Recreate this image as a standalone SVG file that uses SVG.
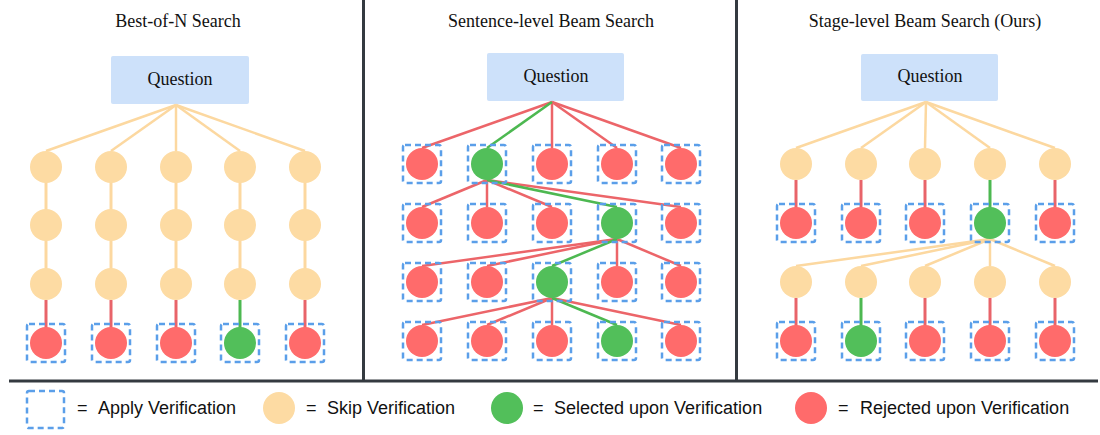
<svg xmlns="http://www.w3.org/2000/svg" width="1100" height="435" viewBox="0 0 1100 435">
<style>
.title{font-family:"Liberation Serif","Times New Roman",serif;font-size:18px;fill:#111;text-anchor:middle}
.q{fill:#CDE1FA}
.qt{font-family:"Liberation Serif","Times New Roman",serif;font-size:18px;fill:#111;text-anchor:middle}
.ly{stroke:#FCD8A0;stroke-width:3;fill:none}
.lr{stroke:#E8646A;stroke-width:3;fill:none}
.lg{stroke:#4DB851;stroke-width:3;fill:none}
.fy{stroke:#FCD8A0;stroke-width:2.5;fill:none}
.fr{stroke:#EC6569;stroke-width:2.5;fill:none}
.fg{stroke:#4DB851;stroke-width:2.5;fill:none}
.cy{fill:#FDDBA3}
.cr{fill:#FF6B6B}
.cg{fill:#52BF5A}
.bx{fill:none;stroke:#5B9FE9;stroke-width:2.5;stroke-dasharray:6 4}
.div{stroke:#343A40;stroke-width:3;fill:none}
.lt{font-family:"Liberation Sans",Arial,sans-serif;font-size:18px;fill:#111}
</style>

<g id="dividers">
<line class="div" x1="363.5" y1="0" x2="363.5" y2="381"/>
<line class="div" x1="736.5" y1="0" x2="736.5" y2="381"/>
<line class="div" x1="9" y1="381" x2="1098" y2="381"/>
</g>

<!-- Panel 1 -->
<g id="p1-title"><text class="title" x="178" y="27">Best-of-N Search</text></g>
<g id="p1-question"><rect class="q" x="111" y="56" width="138" height="48" rx="2"/><text class="qt" x="180" y="85">Question</text></g>
<g id="p1-connectors">
<line class="fy" x1="176" y1="105" x2="46" y2="151"/>
<line class="fy" x1="176" y1="105" x2="111" y2="151"/>
<line class="fy" x1="176" y1="105" x2="176" y2="151"/>
<line class="fy" x1="176" y1="105" x2="240" y2="151"/>
<line class="fy" x1="176" y1="105" x2="305" y2="151"/>
<line class="ly" x1="46" y1="167" x2="46" y2="284"/>
<line class="ly" x1="111" y1="167" x2="111" y2="284"/>
<line class="ly" x1="176" y1="167" x2="176" y2="284"/>
<line class="ly" x1="240" y1="167" x2="240" y2="284"/>
<line class="ly" x1="305" y1="167" x2="305" y2="284"/>
<line class="lr" x1="46" y1="300" x2="46" y2="330"/>
<line class="lr" x1="111" y1="300" x2="111" y2="330"/>
<line class="lr" x1="176" y1="300" x2="176" y2="330"/>
<line class="lg" x1="240" y1="300" x2="240" y2="330"/>
<line class="lr" x1="305" y1="300" x2="305" y2="330"/>
</g>
<g id="p1-nodes">
<circle class="cy" cx="46" cy="167" r="16"/><circle class="cy" cx="111" cy="167" r="16"/><circle class="cy" cx="176" cy="167" r="16"/><circle class="cy" cx="240" cy="167" r="16"/><circle class="cy" cx="305" cy="167" r="16"/>
<circle class="cy" cx="46" cy="225" r="16"/><circle class="cy" cx="111" cy="225" r="16"/><circle class="cy" cx="176" cy="225" r="16"/><circle class="cy" cx="240" cy="225" r="16"/><circle class="cy" cx="305" cy="225" r="16"/>
<circle class="cy" cx="46" cy="284" r="16"/><circle class="cy" cx="111" cy="284" r="16"/><circle class="cy" cx="176" cy="284" r="16"/><circle class="cy" cx="240" cy="284" r="16"/><circle class="cy" cx="305" cy="284" r="16"/>
<circle class="cr" cx="46" cy="343" r="16"/><circle class="cr" cx="111" cy="343" r="16"/><circle class="cr" cx="176" cy="343" r="16"/><circle class="cg" cx="240" cy="343" r="16"/><circle class="cr" cx="305" cy="343" r="16"/>
<rect class="bx" x="27" y="324" width="38" height="38" rx="2"/><rect class="bx" x="92" y="324" width="38" height="38" rx="2"/><rect class="bx" x="157" y="324" width="38" height="38" rx="2"/><rect class="bx" x="221" y="324" width="38" height="38" rx="2"/><rect class="bx" x="286" y="324" width="38" height="38" rx="2"/>
</g>

<!-- Panel 2 -->
<g id="p2-title"><text class="title" x="551" y="27">Sentence-level Beam Search</text></g>
<g id="p2-question"><rect class="q" x="487" y="53" width="137" height="48" rx="2"/><text class="qt" x="556" y="82">Question</text></g>
<g id="p2-connectors">
<line class="fr" x1="552" y1="102" x2="422" y2="148"/>
<line class="fr" x1="552" y1="102" x2="552" y2="148"/>
<line class="fr" x1="552" y1="102" x2="617" y2="148"/>
<line class="fr" x1="552" y1="102" x2="681" y2="148"/>
<line class="fg" x1="552" y1="102" x2="487" y2="148"/>
<line class="fr" x1="487" y1="180" x2="422" y2="207"/>
<line class="fr" x1="487" y1="180" x2="487" y2="207"/>
<line class="fr" x1="487" y1="180" x2="552" y2="207"/>
<line class="fr" x1="487" y1="180" x2="681" y2="207"/>
<line class="fg" x1="487" y1="180" x2="617" y2="207"/>
<line class="fr" x1="617" y1="239" x2="422" y2="266"/>
<line class="fr" x1="617" y1="239" x2="487" y2="266"/>
<line class="fr" x1="617" y1="239" x2="617" y2="266"/>
<line class="fr" x1="617" y1="239" x2="681" y2="266"/>
<line class="fg" x1="617" y1="239" x2="552" y2="266"/>
<line class="fr" x1="552" y1="298" x2="422" y2="325"/>
<line class="fr" x1="552" y1="298" x2="487" y2="325"/>
<line class="fr" x1="552" y1="298" x2="552" y2="325"/>
<line class="fr" x1="552" y1="298" x2="681" y2="325"/>
<line class="fg" x1="552" y1="298" x2="617" y2="325"/>
</g>
<g id="p2-nodes">
<circle class="cr" cx="422" cy="164" r="16"/><circle class="cg" cx="487" cy="164" r="16"/><circle class="cr" cx="552" cy="164" r="16"/><circle class="cr" cx="617" cy="164" r="16"/><circle class="cr" cx="681" cy="164" r="16"/>
<circle class="cr" cx="422" cy="223" r="16"/><circle class="cr" cx="487" cy="223" r="16"/><circle class="cr" cx="552" cy="223" r="16"/><circle class="cg" cx="617" cy="223" r="16"/><circle class="cr" cx="681" cy="223" r="16"/>
<circle class="cr" cx="422" cy="282" r="16"/><circle class="cr" cx="487" cy="282" r="16"/><circle class="cg" cx="552" cy="282" r="16"/><circle class="cr" cx="617" cy="282" r="16"/><circle class="cr" cx="681" cy="282" r="16"/>
<circle class="cr" cx="422" cy="341" r="16"/><circle class="cr" cx="487" cy="341" r="16"/><circle class="cr" cx="552" cy="341" r="16"/><circle class="cg" cx="617" cy="341" r="16"/><circle class="cr" cx="681" cy="341" r="16"/>
<rect class="bx" x="403" y="145" width="38" height="38" rx="2"/><rect class="bx" x="468" y="145" width="38" height="38" rx="2"/><rect class="bx" x="533" y="145" width="38" height="38" rx="2"/><rect class="bx" x="598" y="145" width="38" height="38" rx="2"/><rect class="bx" x="662" y="145" width="38" height="38" rx="2"/>
<rect class="bx" x="403" y="204" width="38" height="38" rx="2"/><rect class="bx" x="468" y="204" width="38" height="38" rx="2"/><rect class="bx" x="533" y="204" width="38" height="38" rx="2"/><rect class="bx" x="598" y="204" width="38" height="38" rx="2"/><rect class="bx" x="662" y="204" width="38" height="38" rx="2"/>
<rect class="bx" x="403" y="263" width="38" height="38" rx="2"/><rect class="bx" x="468" y="263" width="38" height="38" rx="2"/><rect class="bx" x="533" y="263" width="38" height="38" rx="2"/><rect class="bx" x="598" y="263" width="38" height="38" rx="2"/><rect class="bx" x="662" y="263" width="38" height="38" rx="2"/>
<rect class="bx" x="403" y="322" width="38" height="38" rx="2"/><rect class="bx" x="468" y="322" width="38" height="38" rx="2"/><rect class="bx" x="533" y="322" width="38" height="38" rx="2"/><rect class="bx" x="598" y="322" width="38" height="38" rx="2"/><rect class="bx" x="662" y="322" width="38" height="38" rx="2"/>
</g>

<!-- Panel 3 -->
<g id="p3-title"><text class="title" x="925" y="27">Stage-level Beam Search (Ours)</text></g>
<g id="p3-question"><rect class="q" x="861" y="54" width="137" height="47" rx="2"/><text class="qt" x="930" y="82">Question</text></g>
<g id="p3-connectors">
<line class="fy" x1="926" y1="102" x2="796" y2="148"/>
<line class="fy" x1="926" y1="102" x2="861" y2="148"/>
<line class="fy" x1="926" y1="102" x2="925" y2="148"/>
<line class="fy" x1="926" y1="102" x2="990" y2="148"/>
<line class="fy" x1="926" y1="102" x2="1055" y2="148"/>
<line class="lr" x1="796" y1="180" x2="796" y2="210"/>
<line class="lr" x1="861" y1="180" x2="861" y2="210"/>
<line class="lr" x1="925" y1="180" x2="925" y2="210"/>
<line class="lg" x1="990" y1="180" x2="990" y2="210"/>
<line class="lr" x1="1055" y1="180" x2="1055" y2="210"/>
<line class="fy" x1="990" y1="239" x2="796" y2="266"/>
<line class="fy" x1="990" y1="239" x2="861" y2="266"/>
<line class="fy" x1="990" y1="239" x2="925" y2="266"/>
<line class="fy" x1="990" y1="239" x2="990" y2="266"/>
<line class="fy" x1="990" y1="239" x2="1055" y2="266"/>
<line class="lr" x1="796" y1="298" x2="796" y2="328"/>
<line class="lg" x1="861" y1="298" x2="861" y2="328"/>
<line class="lr" x1="925" y1="298" x2="925" y2="328"/>
<line class="lr" x1="990" y1="298" x2="990" y2="328"/>
<line class="lr" x1="1055" y1="298" x2="1055" y2="328"/>
</g>
<g id="p3-nodes">
<circle class="cy" cx="796" cy="164" r="16"/><circle class="cy" cx="861" cy="164" r="16"/><circle class="cy" cx="925" cy="164" r="16"/><circle class="cy" cx="990" cy="164" r="16"/><circle class="cy" cx="1055" cy="164" r="16"/>
<circle class="cr" cx="796" cy="223" r="16"/><circle class="cr" cx="861" cy="223" r="16"/><circle class="cr" cx="925" cy="223" r="16"/><circle class="cg" cx="990" cy="223" r="16"/><circle class="cr" cx="1055" cy="223" r="16"/>
<circle class="cy" cx="796" cy="282" r="16"/><circle class="cy" cx="861" cy="282" r="16"/><circle class="cy" cx="925" cy="282" r="16"/><circle class="cy" cx="990" cy="282" r="16"/><circle class="cy" cx="1055" cy="282" r="16"/>
<circle class="cr" cx="796" cy="341" r="16"/><circle class="cg" cx="861" cy="341" r="16"/><circle class="cr" cx="925" cy="341" r="16"/><circle class="cr" cx="990" cy="341" r="16"/><circle class="cr" cx="1055" cy="341" r="16"/>
<rect class="bx" x="777" y="204" width="38" height="38" rx="2"/><rect class="bx" x="842" y="204" width="38" height="38" rx="2"/><rect class="bx" x="906" y="204" width="38" height="38" rx="2"/><rect class="bx" x="971" y="204" width="38" height="38" rx="2"/><rect class="bx" x="1036" y="204" width="38" height="38" rx="2"/>
<rect class="bx" x="777" y="322" width="38" height="38" rx="2"/><rect class="bx" x="842" y="322" width="38" height="38" rx="2"/><rect class="bx" x="906" y="322" width="38" height="38" rx="2"/><rect class="bx" x="971" y="322" width="38" height="38" rx="2"/><rect class="bx" x="1036" y="322" width="38" height="38" rx="2"/>
</g>

<!-- Legend -->
<g id="legend">
<rect class="bx" x="27" y="391" width="37" height="37" rx="2"/>
<text class="lt" x="77" y="414">=</text>
<text class="lt" x="98" y="414">Apply Verification</text>
<circle class="cy" cx="279" cy="408" r="16"/>
<text class="lt" x="306" y="414">=</text>
<text class="lt" x="327" y="414">Skip Verification</text>
<circle class="cg" cx="507" cy="408" r="16"/>
<text class="lt" x="533" y="414">=</text>
<text class="lt" x="554" y="414">Selected upon Verification</text>
<circle class="cr" cx="811" cy="408" r="16"/>
<text class="lt" x="838" y="414">=</text>
<text class="lt" x="860" y="414">Rejected upon Verification</text>
</g>
</svg>
